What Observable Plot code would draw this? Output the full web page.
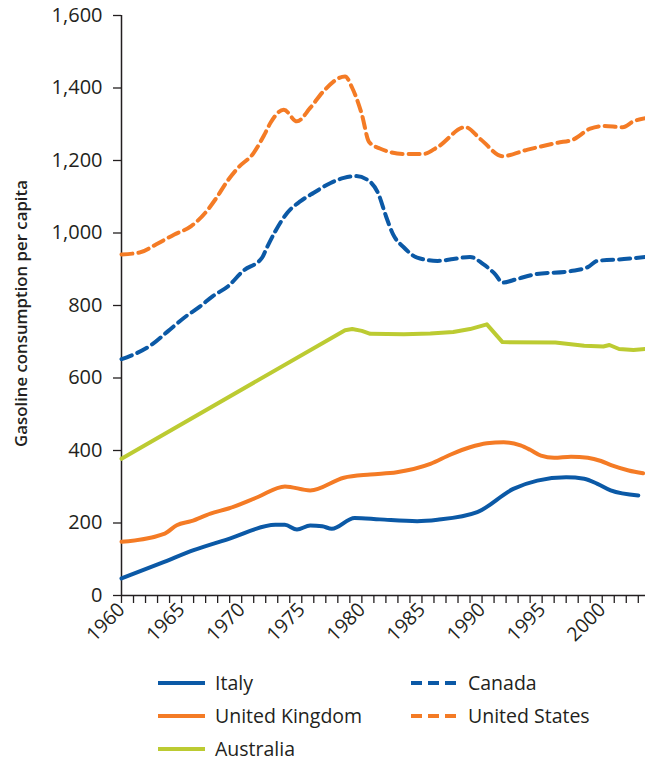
<!DOCTYPE html>
<html><head><meta charset="utf-8">
<script src="https://cdn.jsdelivr.net/npm/d3@7"></script>
<script src="https://cdn.jsdelivr.net/npm/@observablehq/plot@0.6"></script>
<style>
body{margin:0;background:#fff;font-family:"Open Sans",sans-serif;color:#231f20}
#wrap{position:relative;width:645px;height:763px;overflow:hidden}
.item{position:absolute;display:flex;align-items:center;font-size:19.5px;line-height:1;white-space:nowrap}
.item svg{margin-right:10px}
</style></head><body>
<div id="wrap"><div id="chart"></div></div>
<script>
// ---- data ----
const italy = [[1960,47],[1963.5,92],[1966,125],[1969,157],[1972.8,195],[1973.6,195],[1974.6,182],[1975.7,193],[1976.7,191],[1977.5,184],[1979.4,214],[1981.5,210],[1984.6,205],[1986.3,209],[1989.6,230],[1992.6,294],[1994.6,317],[1997,326],[1998.5,322],[1999.6,308],[2000.7,290],[2003,276]];
const unitedKingdom = [[1960,148],[1963.6,171],[1964.6,194],[1965.8,205],[1967.4,226],[1968.9,240],[1971.3,271],[1973.6,301],[1975.7,290],[1978.5,325],[1980.7,334],[1982.9,340],[1985.7,363],[1987.4,389],[1989,409],[1990.4,420],[1991.8,423],[1993.2,414],[1994,402],[1994.9,386],[1996,380],[1997.4,383],[1998.8,380],[1999.9,371],[2000.8,359],[2002.2,345],[2003.4,337]];
const australia = [[1960,377],[1978.6,732],[1979.2,735],[1980,730],[1980.7,722],[1983.5,721],[1985.7,723],[1987.6,727],[1989,735],[1990.4,748],[1991.7,699],[1996.1,698],[1998.5,689],[2000.1,687],[2000.6,691],[2001.4,680],[2002.6,677],[2003.6,680]];
const canada = [[1960,652],[1961.1,666],[1962.6,694],[1963.9,730],[1965.4,771],[1966.4,794],[1967.6,826],[1968.9,854],[1970.1,895],[1971.7,932],[1972.1,960],[1972.8,1005],[1973.8,1056],[1974.9,1088],[1976,1111],[1977.4,1138],[1978.5,1152],[1979.5,1157],[1980.4,1148],[1981.4,1106],[1982,1047],[1982.6,996],[1983.5,960],[1984.6,932],[1986.3,923],[1987.6,928],[1989,934],[1990.1,914],[1991.1,886],[1991.7,863],[1992.9,873],[1994.4,886],[1997.4,895],[1998.8,906],[1999.6,923],[2001.8,928],[2003.6,934]];
const unitedStates = [[1960,941],[1961.5,946],[1962.9,969],[1964.4,996],[1965.8,1019],[1967.2,1065],[1967.9,1097],[1968.8,1143],[1969.7,1180],[1971,1221],[1971.9,1272],[1972.4,1304],[1973.5,1340],[1974.6,1308],[1975.7,1345],[1976.8,1391],[1978.6,1432],[1979.2,1400],[1980,1327],[1980.6,1251],[1981.5,1233],[1983.5,1218],[1985.1,1218],[1986.3,1237],[1988.6,1292],[1989.9,1258],[1991.7,1212],[1993.8,1230],[1996.3,1249],[1997.6,1258],[1999,1288],[2000.1,1295],[2001.7,1292],[2002.6,1308],[2003.6,1317]];

const countries = ["Italy","United Kingdom","Australia","Canada","United States"];
const seriesData = [italy, unitedKingdom, australia, canada, unitedStates];
const yTickValues = [0,200,400,600,800,1000,1200,1400,1600];
const yearTicks = d3.range(1960, 2004);
const yearLabels = [1960,1965,1970,1975,1980,1985,1990,1995,2000];
const yTitle = "Gasoline consumption per capita";

// ---- styles ----
const BLUE = "#0b59a6", ORANGE = "#f47b25", GREEN = "#bccb32";
const styles = {
  "Italy": {color: BLUE, dash: null, curve: "monotone-x"},
  "United Kingdom": {color: ORANGE, dash: null, curve: "monotone-x"},
  "Australia": {color: GREEN, dash: null, curve: "linear"},
  "Canada": {color: BLUE, dash: "11,6", curve: "monotone-x"},
  "United States": {color: ORANGE, dash: "11,6", curve: "monotone-x"}
};

const rows = countries.flatMap((c, i) => seriesData[i].map(([year, value]) => ({country: c, year, value})));

const lineMarks = countries.map(c => Plot.line(rows.filter(r => r.country === c), {
  x: "year", y: "value", stroke: styles[c].color, strokeWidth: 4,
  strokeDasharray: styles[c].dash || undefined, curve: styles[c].curve, strokeLinejoin: "round"
}));

const AX = "#231f20";
const chart = Plot.plot({
  width: 645, height: 660,
  marginLeft: 121, marginRight: 0, marginTop: 15, marginBottom: 65,
  style: {fontFamily: "'Open Sans', sans-serif", color: AX, background: "white", overflow: "visible"},
  x: {domain: [1960, 2003.6]},
  y: {domain: [0, 1600]},
  marks: [
    Plot.axisY(yTickValues, {tickFormat: d3.format(","), tickSize: 8, tickPadding: 11, fontSize: 20, label: null, strokeWidth: 1.3}),
    Plot.axisX(yearTicks, {tickFormat: () => "", tickSize: 8, label: null, strokeWidth: 1.3}),
    Plot.axisX(yearLabels, {tickFormat: d => String(d), tickSize: 0, tickPadding: 11, tickRotate: -45, fontSize: 19.5, label: null}),
    Plot.ruleX([1960], {y1: 0, y2: 1600, stroke: AX, strokeWidth: 1.5}),
    Plot.ruleY([0], {stroke: AX, strokeWidth: 1.5}),
    Plot.text([yTitle], {frameAnchor: "left", textAnchor: "middle", rotate: -90, dx: -100, dy: 8, fontWeight: 600, fontSize: 16.8, fill: AX}),
    ...lineMarks
  ]
});
document.getElementById("chart").appendChild(chart);

// ---- legend (HTML, below the SVG) ----
const legendLayout = {
  "Italy": [158, 683], "United Kingdom": [158, 716], "Australia": [158, 749],
  "Canada": [411, 683], "United States": [411, 716]
};
const wrap = document.getElementById("wrap");
countries.forEach(c => {
  const [lx, ly] = legendLayout[c];
  const div = document.createElement("div");
  div.className = "item";
  div.style.left = lx + "px";
  div.style.top = (ly - 12) + "px";
  div.style.height = "24px";
  const st = styles[c];
  div.innerHTML = `<svg width="47" height="8"><line x1="0" x2="47" y1="4" y2="4" stroke="${st.color}" stroke-width="4" ${st.dash ? `stroke-dasharray="${st.dash}"` : ""}/></svg><span>${c}</span>`;
  wrap.appendChild(div);
});
</script>
</body></html>
